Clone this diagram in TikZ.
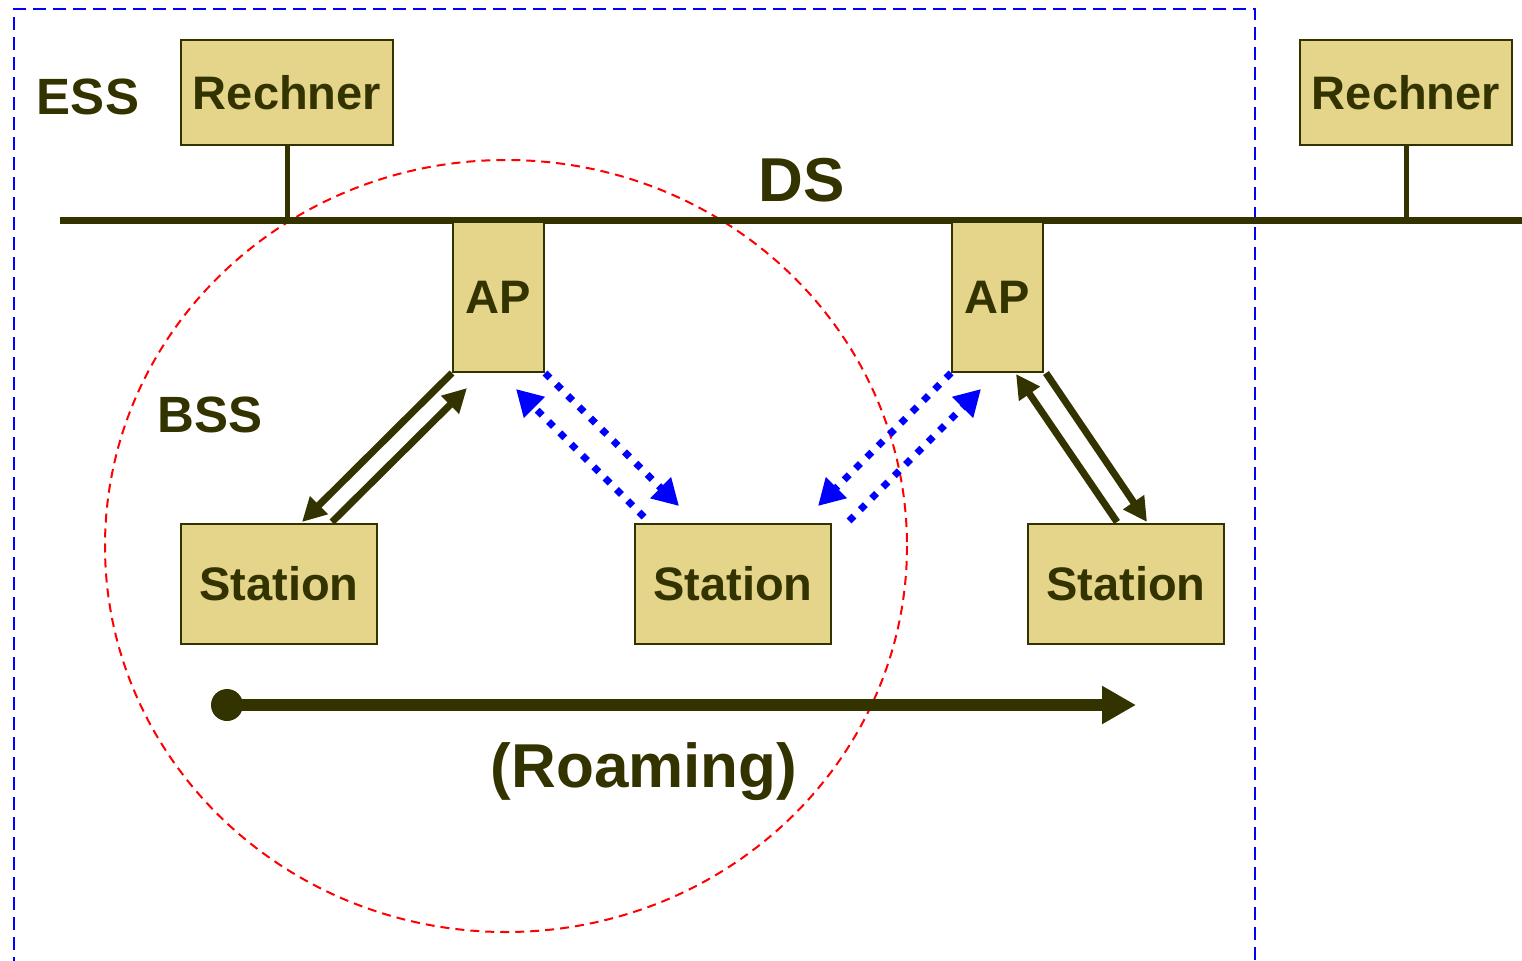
\documentclass[tikz,border=0pt]{standalone}
\usepackage{fontspec}
\setmainfont{Liberation Sans}
\usetikzlibrary{arrows.meta,calc}
\definecolor{dkolive}{HTML}{333300}
\definecolor{boxfill}{HTML}{E4D58B}
\begin{document}
\begin{tikzpicture}[x=1bp,y=-1bp,
 box/.style={draw=dkolive,line width=2bp,fill=boxfill,inner sep=0pt,text=dkolive,font=\bfseries\fontsize{47bp}{50bp}\selectfont},
 lbl/.style={text=dkolive,inner sep=0pt,font=\bfseries\fontsize{51bp}{55bp}\selectfont},
 biglbl/.style={text=dkolive,inner sep=0pt,font=\bfseries\fontsize{62bp}{66bp}\selectfont},
 solidarrow/.style={draw=dkolive,line width=7bp,-{Triangle[length=24bp,width=24bp]}},
 dotarrow/.style={draw=blue,line width=7bp,dash pattern=on 7bp off 9bp,-{Triangle[length=26bp,width=28bp]}},
]
\useasboundingbox (0,0) rectangle (1522,960);
\clip (0,0) rectangle (1522,960);
% ESS frame
\draw[blue,line width=2bp,dash pattern=on 13bp off 7bp] (14,970) -- (14,9) -- (1255,9) -- (1255,970);
% BSS circle
\draw[red,line width=2bp,dash pattern=on 9bp off 6bp] (506,546) ellipse [x radius=401, y radius=386];
% bus
\coordinate (busL) at (60,220);
\coordinate (busR) at (1522,220);
\draw[dkolive,line width=7bp] (busL) -- (busR);
% boxes
\node[box,minimum width=212bp,minimum height=105bp] (rech1) at (287,92.5) {Rechner};
\node[box,minimum width=212bp,minimum height=105bp] (rech2) at (1406,92.5) {Rechner};
\draw[dkolive,line width=5bp] (rech1.south) -- (rech1.south |- busL);
\draw[dkolive,line width=5bp] (rech2.south) -- (rech2.south |- busL);
\node[box,minimum width=91bp,minimum height=150bp] (ap1) at (498.5,297) {AP};
\node[box,minimum width=91bp,minimum height=150bp] (ap2) at (997.5,297) {AP};
\node[box,minimum width=196bp,minimum height=120bp] (st1) at (279,584) {Station};
\node[box,minimum width=196bp,minimum height=120bp] (st2) at (733,584) {Station};
\node[box,minimum width=196bp,minimum height=120bp] (st3) at (1126,584) {Station};
% labels
\node[lbl] (ess) at (88,97) {ESS};
\node[lbl] (bss) at (210,415) {BSS};
\node[biglbl] (ds) at (802,180) {DS};
% solid arrows
\draw[solidarrow] (ap1.south west) -- ($(st1.north west)+(122,-1)$);
\draw[solidarrow] ($(st1.north west)+(152,-1)$) -- ($(ap1.south west)+(15,15)$);
\draw[solidarrow] ($(st3.north west)+(90,-1)$) -- ($(ap2.south east)+(-28,1)$);
\draw[solidarrow] ($(ap2.south east)+(2,0)$) -- ($(st3.north west)+(120,-1)$);
% dotted arrows
\draw[dotarrow] (ap1.south east) -- ($(st2.north west)+(45,-17)$);
\draw[dotarrow] ($(st2.north west)+(10,-6)$) -- ($(ap1.south east)+(-29,16)$);
\draw[dotarrow] (ap2.south west) -- ($(st2.north east)+(-14,-17)$);
\draw[dotarrow] ($(st2.north east)+(17,-2)$) -- ($(ap2.south west)+(30,16)$);
% roaming
\coordinate (rs) at (227,705);
\coordinate (re) at (1136,705);
\draw[dkolive,line width=12bp,-{Triangle[length=34bp,width=36bp]}] (rs) -- (re);
\fill[dkolive] (rs) circle (16);
\node[biglbl] (roam) at (644,772) {(Roaming)};
\end{tikzpicture}
\end{document}
